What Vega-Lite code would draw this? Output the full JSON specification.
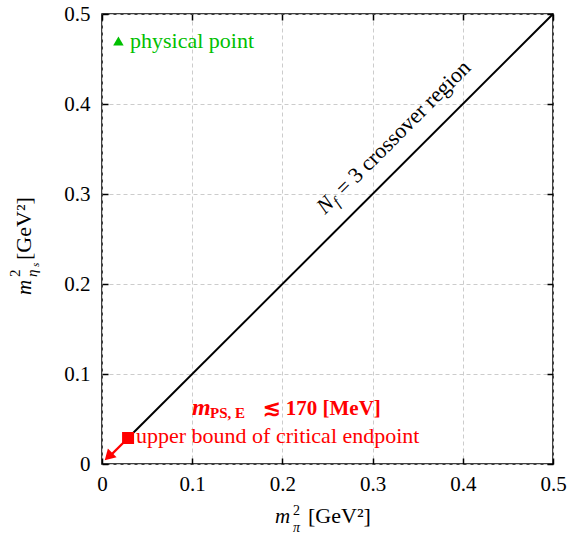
{
  "$schema": "https://vega.github.io/schema/vega-lite/v6.json",
  "width": 451,
  "height": 450,
  "autosize": {"type": "none"},
  "padding": {"left": 102, "top": 14, "right": 16, "bottom": 74},
  "background": "white",
  "config": {
    "view": {"stroke": "black", "strokeWidth": 1.5},
    "font": "Liberation Serif, Times New Roman, DejaVu Serif, serif",
    "text": {"font": "Liberation Serif, Times New Roman, DejaVu Serif, serif"},
    "axis": {
      "domain": false,
      "tickSize": -6,
      "tickColor": "black",
      "tickWidth": 1.5,
      "labelFont": "Liberation Serif, Times New Roman, DejaVu Serif, serif",
      "labelFontSize": 21,
      "labelColor": "black",
      "labelFlush": false,
      "labelOverlap": false,
      "gridColor": "#cccccc",
      "gridDash": [4, 3],
      "gridWidth": 1
    }
  },
  "datasets": {
    "diag": [{"x": 0.0289, "y": 0.0289}, {"x": 0.5, "y": 0.5}],
    "shaft": [{"x": 0.0289, "y": 0.0289}, {"x": 0.009, "y": 0.009}],
    "head": [{"x": 0.0072, "y": 0.0082}],
    "endpoint": [{"x": 0.0289, "y": 0.0289}],
    "physical": [{"x": 0.0182, "y": 0.47}],
    "physLabel": [{"x": 0.031, "y": 0.47, "text": "physical point"}],
    "upperLabel": [{"x": 0.0377, "y": 0.0233, "text": "upper bound of critical endpoint"}],
    "mLabel": [{"x": 0.0998, "y": 0.0544, "text": "m"}],
    "psLabel": [{"x": 0.1197, "y": 0.0511, "text": "PS, E"}],
    "boundLabel": [{"x": 0.178, "y": 0.0544, "text": "≲  170 [MeV]"}],
    "nLabel": [{"x": 0.2472, "y": 0.2767, "text": "N"}],
    "fLabel": [{"x": 0.2625, "y": 0.2856, "text": "f"}],
    "crossLabel": [{"x": 0.2685, "y": 0.2971, "text": "= 3 crossover region"}],
    "xTitleM": [{"x": 0.1918, "y": -0.0656, "text": "m"}],
    "xTitle2": [{"x": 0.2118, "y": -0.0567, "text": "2"}],
    "xTitlePi": [{"x": 0.2118, "y": -0.0756, "text": "π"}],
    "xTitleUnit": [{"x": 0.2284, "y": -0.0656, "text": "[GeV²]"}],
    "yTitleM": [{"x": -0.0787, "y": 0.1878, "text": "m"}],
    "yTitle2": [{"x": -0.0909, "y": 0.2078, "text": "2"}],
    "yTitleEta": [{"x": -0.0721, "y": 0.2078, "text": "η"}],
    "yTitleS": [{"x": -0.0700, "y": 0.2190, "text": "s"}],
    "yTitleUnit": [{"x": -0.0787, "y": 0.2267, "text": "[GeV²]"}]
  },
  "encoding": {
    "x": {"field": "x", "type": "quantitative", "scale": {"domain": [0, 0.5], "nice": false, "zero": false}, "axis": null},
    "y": {"field": "y", "type": "quantitative", "scale": {"domain": [0, 0.5], "nice": false, "zero": false}, "axis": null}
  },
  "layer": [
    {
      "data": {"name": "diag"},
      "mark": {"type": "line", "color": "black", "strokeWidth": 2},
      "encoding": {
        "x": {"field": "x", "type": "quantitative", "scale": {"domain": [0, 0.5], "nice": false, "zero": false},
              "axis": {"orient": "bottom", "grid": true, "title": null, "labelPadding": 15, "values": [0, 0.1, 0.2, 0.3, 0.4, 0.5], "format": "~g"}},
        "y": {"field": "y", "type": "quantitative", "scale": {"domain": [0, 0.5], "nice": false, "zero": false},
              "axis": {"orient": "left", "grid": true, "title": null, "labelPadding": 18, "values": [0, 0.1, 0.2, 0.3, 0.4, 0.5], "format": "~g"}}
      }
    },
    {
      "data": {"name": "shaft"},
      "mark": {"type": "line", "color": "#ff0000", "strokeWidth": 2.2},
      "encoding": {
        "x": {"field": "x", "type": "quantitative", "scale": {"domain": [0, 0.5], "nice": false, "zero": false},
              "axis": {"orient": "top", "grid": false, "labels": false, "title": null, "values": [0, 0.1, 0.2, 0.3, 0.4, 0.5]}},
        "y": {"field": "y", "type": "quantitative", "scale": {"domain": [0, 0.5], "nice": false, "zero": false},
              "axis": {"orient": "right", "grid": false, "labels": false, "title": null, "values": [0, 0.1, 0.2, 0.3, 0.4, 0.5]}}
      }
    },
    {
      "data": {"name": "head"},
      "mark": {"type": "point", "shape": "triangle-up", "filled": true, "color": "#ff0000", "opacity": 1, "size": 150, "angle": 225}
    },
    {
      "data": {"name": "endpoint"},
      "mark": {"type": "point", "shape": "square", "filled": true, "color": "#ff0000", "opacity": 1, "size": 144}
    },
    {
      "data": {"name": "physical"},
      "mark": {"type": "point", "shape": "triangle-up", "filled": true, "color": "#00c000", "opacity": 1, "size": 110}
    },
    {
      "data": {"name": "physLabel"},
      "mark": {"type": "text", "align": "left", "baseline": "middle", "fontSize": 22, "color": "#00c000"},
      "encoding": {"text": {"field": "text"}}
    },
    {
      "data": {"name": "upperLabel"},
      "mark": {"type": "text", "align": "left", "baseline": "alphabetic", "fontSize": 22, "color": "#ff0000"},
      "encoding": {"text": {"field": "text"}}
    },
    {
      "data": {"name": "mLabel"},
      "mark": {"type": "text", "align": "left", "baseline": "alphabetic", "fontSize": 24, "fontStyle": "italic", "fontWeight": "bold", "color": "#ff0000"},
      "encoding": {"text": {"field": "text"}}
    },
    {
      "data": {"name": "psLabel"},
      "mark": {"type": "text", "align": "left", "baseline": "alphabetic", "fontSize": 15, "fontWeight": "bold", "color": "#ff0000"},
      "encoding": {"text": {"field": "text"}}
    },
    {
      "data": {"name": "boundLabel"},
      "mark": {"type": "text", "align": "left", "baseline": "alphabetic", "fontSize": 21, "fontWeight": "bold", "color": "#ff0000"},
      "encoding": {"text": {"field": "text"}}
    },
    {
      "data": {"name": "nLabel"},
      "mark": {"type": "text", "align": "left", "baseline": "alphabetic", "angle": -45, "fontSize": 22, "fontStyle": "italic", "color": "black"},
      "encoding": {"text": {"field": "text"}}
    },
    {
      "data": {"name": "fLabel"},
      "mark": {"type": "text", "align": "left", "baseline": "alphabetic", "angle": -45, "fontSize": 15, "fontStyle": "italic", "color": "black"},
      "encoding": {"text": {"field": "text"}}
    },
    {
      "data": {"name": "crossLabel"},
      "mark": {"type": "text", "align": "left", "baseline": "alphabetic", "angle": -45, "fontSize": 22, "color": "black"},
      "encoding": {"text": {"field": "text"}}
    },
    {
      "data": {"name": "xTitleM"},
      "mark": {"type": "text", "align": "left", "baseline": "alphabetic", "fontSize": 21, "fontStyle": "italic", "color": "black"},
      "encoding": {"text": {"field": "text"}}
    },
    {
      "data": {"name": "xTitle2"},
      "mark": {"type": "text", "align": "left", "baseline": "alphabetic", "fontSize": 14, "color": "black"},
      "encoding": {"text": {"field": "text"}}
    },
    {
      "data": {"name": "xTitlePi"},
      "mark": {"type": "text", "align": "left", "baseline": "alphabetic", "fontSize": 14, "fontStyle": "italic", "color": "black"},
      "encoding": {"text": {"field": "text"}}
    },
    {
      "data": {"name": "xTitleUnit"},
      "mark": {"type": "text", "align": "left", "baseline": "alphabetic", "fontSize": 22, "color": "black"},
      "encoding": {"text": {"field": "text"}}
    },
    {
      "data": {"name": "yTitleM"},
      "mark": {"type": "text", "align": "left", "baseline": "alphabetic", "angle": -90, "fontSize": 21, "fontStyle": "italic", "color": "black"},
      "encoding": {"text": {"field": "text"}}
    },
    {
      "data": {"name": "yTitle2"},
      "mark": {"type": "text", "align": "left", "baseline": "alphabetic", "angle": -90, "fontSize": 15, "color": "black"},
      "encoding": {"text": {"field": "text"}}
    },
    {
      "data": {"name": "yTitleEta"},
      "mark": {"type": "text", "align": "left", "baseline": "alphabetic", "angle": -90, "fontSize": 15, "fontStyle": "italic", "color": "black"},
      "encoding": {"text": {"field": "text"}}
    },
    {
      "data": {"name": "yTitleS"},
      "mark": {"type": "text", "align": "left", "baseline": "alphabetic", "angle": -90, "fontSize": 11, "fontStyle": "italic", "color": "black"},
      "encoding": {"text": {"field": "text"}}
    },
    {
      "data": {"name": "yTitleUnit"},
      "mark": {"type": "text", "align": "left", "baseline": "alphabetic", "angle": -90, "fontSize": 22, "color": "black"},
      "encoding": {"text": {"field": "text"}}
    }
  ]
}
